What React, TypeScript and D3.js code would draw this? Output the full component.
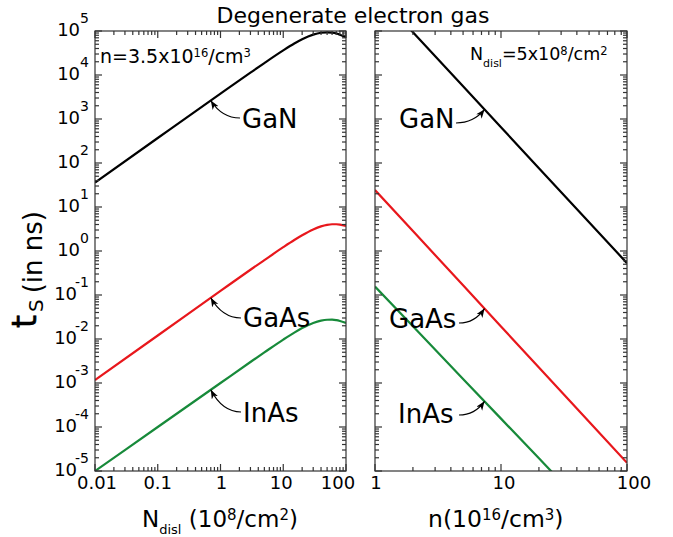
import React, { useEffect, useRef } from 'react';
import * as d3 from 'd3';

// left panel: t_s vs dislocation density (10^8/cm^2), n = 3.5x10^16/cm^3
const ndisl = [0.01, 0.1, 1, 3, 5, 10, 15, 20, 30, 40, 50, 60, 70, 80, 100];
const ganVsNdisl = [36, 370, 3770, 11300, 18700, 36200, 51800, 64900, 82800, 91400, 93500, 91800, 88200, 82500, 72500];
const gaasVsNdisl = [1.17e-3, 0.012, 0.124, 0.375, 0.62, 1.22, 1.78, 2.28, 3.09, 3.63, 3.93, 4.05, 4.05, 3.98, 3.7];
const inasVsNdisl = [1.0e-5, 1.0e-4, 1.0e-3, 3.0e-3, 4.95e-3, 9.7e-3, 0.014, 0.0177, 0.0232, 0.0262, 0.0274, 0.0275, 0.0268, 0.0257, 0.0232];

// right panel: t_s vs carrier density (10^16/cm^3), N_disl = 5x10^8/cm^2
const density = [1, 2, 5, 10, 20, 50, 100];
const ganVsN = [8.0e5, 93700, 5520, 650, 76, 4.5, 0.53];
const gaasVsN = [24.3, 2.84, 0.166, 0.0193, 2.25e-3, 1.32e-4, 1.53e-5];
const inasVsN = [0.155, 0.0194, 1.24e-3, 1.55e-4, 1.94e-5, 1.24e-6, 1.55e-7];

const materials = ['GaN', 'GaAs', 'InAs'];
const colors = ['#000000', '#e8171c', '#178a3a'];
const yExponents = [5, 4, 3, 2, 1, 0, -1, -2, -3, -4, -5];
const ndislTicks = [0.01, 0.1, 1, 10, 100];
const ndislTickLabels = ['0.01', '0.1', '1', '10', '100'];
const densityTicks = [1, 10, 100];
const densityTickLabels = ['1', '10', '100'];

const logTicks = (lo: number, hi: number) => {
    const out: number[] = [];
    for (let e = Math.round(Math.log10(lo)); e < Math.round(Math.log10(hi)); e++) {
        for (let k = 1; k < 10; k++) out.push(k * Math.pow(10, e));
    }
    out.push(hi);
    return out;
};
const isMajor = (v: number) => Math.abs(Math.log10(v) - Math.round(Math.log10(v))) < 1e-6;

// log-log interpolation, used only to put the arrow tips on the curves
const interp = (xs: number[], ys: number[], v: number) => {
    const lv = Math.log10(v);
    for (let i = 0; i < xs.length - 1; i++) {
        const a = Math.log10(xs[i]), b = Math.log10(xs[i + 1]);
        if (lv >= a && lv <= b) {
            const f = (lv - a) / (b - a);
            return Math.pow(10, Math.log10(ys[i]) + f * (Math.log10(ys[i + 1]) - Math.log10(ys[i])));
        }
    }
    return ys[ys.length - 1];
};

const App = () => {
    const ref = useRef<SVGSVGElement>(null);

    useEffect(() => {
        document.body.style.margin = '0';
        const font = "'DejaVu Sans', Verdana, sans-serif";
        const svg = d3.select(ref.current);
        svg.selectAll('*').remove();
        svg.attr('font-family', font);

        const top = 31;
        const bottom = 471;
        const y = d3.scaleLog().domain([1e-5, 1e5]).range([bottom, top]);
        const xL = d3.scaleLog().domain([0.01, 100]).range([95, 346]);
        const xR = d3.scaleLog().domain([1, 100]).range([375, 627]);

        const defs = svg.append('defs');
        defs.append('marker')
            .attr('id', 'head')
            .attr('markerUnits', 'userSpaceOnUse')
            .attr('markerWidth', 10)
            .attr('markerHeight', 8)
            .attr('refX', 9)
            .attr('refY', 3.5)
            .attr('orient', 'auto')
            .append('path')
            .attr('d', 'M0,0 L9,3.5 L0,7 L2.5,3.5 Z')
            .attr('fill', '#000');

        const panel = (x: any, id: string, xs: number[], series: number[][], curve: any) => {
            const [x0, x1] = x.range();
            defs.append('clipPath').attr('id', id)
                .append('rect')
                .attr('x', x0).attr('y', top)
                .attr('width', x1 - x0).attr('height', bottom - top);
            const g = svg.append('g').attr('clip-path', `url(#${id})`);
            series.forEach((vals, i) => {
                const line = d3.line<number>()
                    .x((d, j) => x(xs[j]))
                    .y(d => y(d))
                    .curve(curve);
                g.append('path')
                    .attr('d', line(vals))
                    .attr('fill', 'none')
                    .attr('stroke', colors[i])
                    .attr('stroke-width', 2.2);
            });

            const ax = svg.append('g').attr('stroke', '#333').attr('stroke-width', 1.2);
            ax.append('rect')
                .attr('x', x0).attr('y', top)
                .attr('width', x1 - x0).attr('height', bottom - top)
                .attr('fill', 'none');
            logTicks(x.domain()[0], x.domain()[1]).forEach(v => {
                const len = isMajor(v) ? 7 : 4;
                ax.append('line').attr('x1', x(v)).attr('x2', x(v)).attr('y1', bottom).attr('y2', bottom - len);
                ax.append('line').attr('x1', x(v)).attr('x2', x(v)).attr('y1', top).attr('y2', top + len);
            });
            logTicks(1e-5, 1e5).forEach(v => {
                const len = isMajor(v) ? 7 : 4;
                ax.append('line').attr('x1', x0).attr('x2', x0 + len).attr('y1', y(v)).attr('y2', y(v));
                ax.append('line').attr('x1', x1).attr('x2', x1 - len).attr('y1', y(v)).attr('y2', y(v));
            });
        };

        panel(xL, 'clipL', ndisl, [ganVsNdisl, gaasVsNdisl, inasVsNdisl], d3.curveMonotoneX);
        panel(xR, 'clipR', density, [ganVsN, gaasVsN, inasVsN], d3.curveLinear);

        // y tick labels
        yExponents.forEach(e => {
            const t = svg.append('text')
                .attr('x', 89)
                .attr('y', y(Math.pow(10, e)) + 5)
                .attr('text-anchor', 'end')
                .attr('font-size', 18);
            t.append('tspan').text('10');
            t.append('tspan')
                .attr('font-size', 14)
                .attr('dx', e < 0 ? -2 : 0)
                .attr('dy', -13)
                .text(String(e));
        });

        // x tick labels
        const xShiftL = [2, 0, 1, -2, -8];
        ndislTicks.forEach((v, i) => {
            svg.append('text')
                .attr('x', xL(v) + xShiftL[i]).attr('y', 489)
                .attr('text-anchor', 'middle').attr('font-size', 18)
                .text(ndislTickLabels[i]);
        });
        const xShiftR = [1, 3, 7];
        densityTicks.forEach((v, i) => {
            svg.append('text')
                .attr('x', xR(v) + xShiftR[i]).attr('y', 489)
                .attr('text-anchor', 'middle').attr('font-size', 18)
                .text(densityTickLabels[i]);
        });

        // axis titles
        const tl = svg.append('text').attr('x', 142).attr('y', 527).attr('font-size', 23);
        tl.append('tspan').text('N');
        tl.append('tspan').attr('font-size', 13).attr('dy', 7).text('disl');
        tl.append('tspan').attr('dy', -7).text(' (10');
        tl.append('tspan').attr('font-size', 15).attr('dy', -7).text('8');
        tl.append('tspan').attr('dy', 7).text('/cm');
        tl.append('tspan').attr('font-size', 15).attr('dy', -7).text('2');
        tl.append('tspan').attr('dy', 7).text(')');

        const tr = svg.append('text').attr('x', 428).attr('y', 527).attr('font-size', 23.5);
        tr.append('tspan').text('n(10');
        tr.append('tspan').attr('font-size', 15).attr('dy', -7).text('16');
        tr.append('tspan').attr('dy', 7).text('/cm');
        tr.append('tspan').attr('font-size', 15).attr('dy', -7).text('3');
        tr.append('tspan').attr('dy', 7).text(')');

        const ty = svg.append('text').attr('transform', 'translate(36,328) rotate(-90)');
        ty.append('tspan').attr('font-size', 33).attr('stroke', '#000').attr('stroke-width', 0.6).text('t');
        ty.append('tspan').attr('font-size', 20).attr('dx', 3).attr('dy', 7).text('S');
        ty.append('tspan').attr('font-size', 26).attr('dx', 6).attr('dy', -1).text('(in ns)');

        svg.append('text')
            .attr('x', 353).attr('y', 23)
            .attr('text-anchor', 'middle').attr('font-size', 22)
            .text('Degenerate electron gas');

        // panel annotations
        const al = svg.append('text').attr('x', 100).attr('y', 63).attr('font-size', 19);
        al.append('tspan').text('n=3.5x10');
        al.append('tspan').attr('font-size', 11.5).attr('dy', -6).text('16');
        al.append('tspan').attr('dy', 6).text('/cm');
        al.append('tspan').attr('font-size', 11.5).attr('dy', -6).text('3');

        const ar = svg.append('text').attr('x', 470).attr('y', 60).attr('font-size', 17.5);
        ar.append('tspan').text('N');
        ar.append('tspan').attr('font-size', 11).attr('dy', 7).text('disl');
        ar.append('tspan').attr('dy', -7).text('=5x10');
        ar.append('tspan').attr('font-size', 11.5).attr('dy', -5).text('8');
        ar.append('tspan').attr('dy', 5).text('/cm');
        ar.append('tspan').attr('font-size', 11.5).attr('dy', -5).text('2');

        // material labels with curved arrows
        const label = (text: string, lx: number, ly: number, tail: number[], tip: number[]) => {
            svg.append('text').attr('x', lx).attr('y', ly).attr('font-size', 26).text(text);
            const cx = tip[0] + (tail[0] - tip[0]) * 0.38;
            svg.append('path')
                .attr('d', `M${tail[0]},${tail[1]} Q${cx},${tail[1]} ${tip[0]},${tip[1]}`)
                .attr('fill', 'none')
                .attr('stroke', '#000')
                .attr('stroke-width', 1.2)
                .attr('marker-end', 'url(#head)');
        };
        const leftSeries = [ganVsNdisl, gaasVsNdisl, inasVsNdisl];
        const rightSeries = [ganVsN, gaasVsN, inasVsN];
        const leftPos = [[242, 128, 240, 118], [243, 327, 241, 318], [243, 422, 241, 412]];
        const rightPos = [[399, 128, 456, 123], [389, 328, 459, 323], [398, 423, 459, 415]];
        materials.forEach((m, i) => {
            const p = leftPos[i];
            label(m, p[0], p[1], [p[2], p[3]], [xL(0.7), y(interp(ndisl, leftSeries[i], 0.7))]);
            const q = rightPos[i];
            label(m, q[0], q[1], [q[2], q[3]], [xR(7.4), y(interp(density, rightSeries[i], 7.4))]);
        });
    }, []);

    return <svg ref={ref} width={673} height={537} style={{ display: 'block', background: '#fff' }} />;
};

export default App;
